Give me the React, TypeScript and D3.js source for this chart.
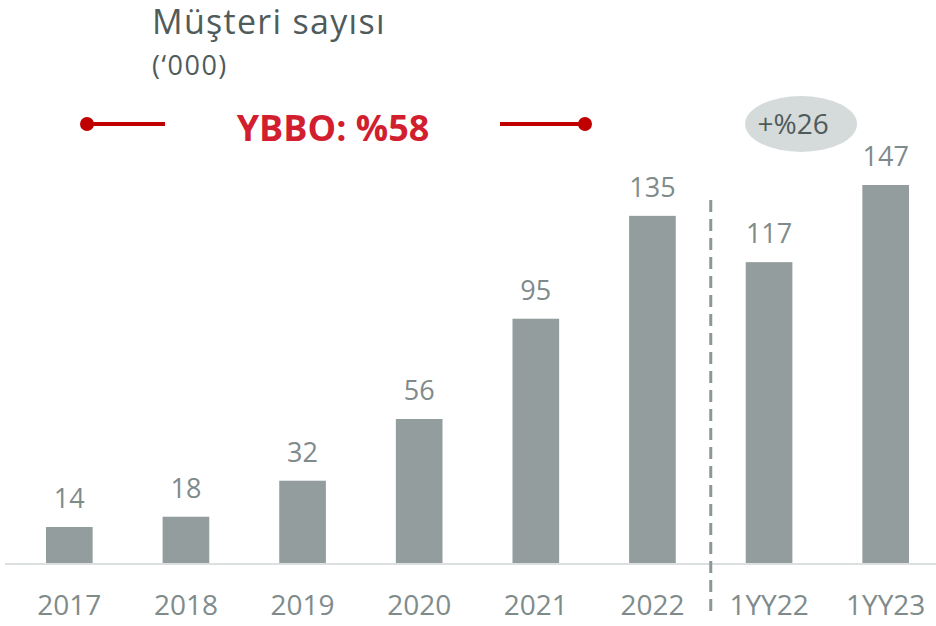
import React from "react";
import * as d3 from "d3";

const categories = ["2017", "2018", "2019", "2020", "2021", "2022", "1YY22", "1YY23"];
const values = [14, 18, 32, 56, 95, 135, 117, 147];
const titleText = "Müşteri sayısı";
const unitText = "(‘000)";
const cagrText = "YBBO: %58";
const growthText = "+%26";

const W = 936;
const H = 626;
const FONT = "'Open Sans', sans-serif";

export default function App() {
  const x = d3.scaleBand<string>().domain(categories).range([11, 944]).paddingInner(0.6).paddingOuter(0.3);
  const y = d3.scaleLinear().domain([0, 147]).range([563, 185]);
  const bw = x.bandwidth();
  const dashX = ((x("2022") as number) + bw + (x("1YY22") as number)) / 2;
  const gc = (x("1YY22") as number) + bw / 2;
  const red = "#c00000";
  return (
    <svg width={W} height={H} style={{ position: "absolute", left: 0, top: 0 }} fontFamily={FONT}>
      <rect width={W} height={H} fill="#ffffff" />
      <text x={152} y={34} fontSize={34} letterSpacing={1.3} fill="#505b5b">{titleText}</text>
      <text x={152} y={75} fontSize={27} letterSpacing={1.5} fill="#505b5b">{unitText}</text>
      <line x1={87} x2={165} y1={124} y2={124} stroke={red} strokeWidth={4} />
      <circle cx={87} cy={124} r={7} fill={red} />
      <line x1={500} x2={585} y1={124} y2={124} stroke={red} strokeWidth={4} />
      <circle cx={585} cy={124} r={7} fill={red} />
      <text x={333} y={141} textAnchor="middle" fontSize={36} fontWeight="bold" fill="#d21f2f">{cagrText}</text>
      <ellipse cx={gc + 32} cy={124} rx={56} ry={28} fill="#d5dbdb" />
      <text x={gc + 24} y={134} textAnchor="middle" fontSize={28} fill="#4f5a5a">{growthText}</text>
      <line x1={5} x2={936} y1={564} y2={564} stroke="#dcdfdf" strokeWidth={2} />
      {categories.map((c, i) => (
        <g key={c}>
          <rect x={x(c)} y={y(values[i])} width={bw} height={y(0) - y(values[i])} fill="#939d9d" />
          <text x={(x(c) as number) + bw / 2} y={y(values[i]) - 19} textAnchor="middle" fontSize={27} fill="#7f8b8b">{values[i]}</text>
          <text x={(x(c) as number) + bw / 2} y={615} textAnchor="middle" fontSize={28} fill="#7f8b8b">{c}</text>
        </g>
      ))}
      <line x1={dashX} x2={dashX} y1={200} y2={612} stroke="#8c9797" strokeWidth={3} strokeDasharray="12 7" />
    </svg>
  );
}
